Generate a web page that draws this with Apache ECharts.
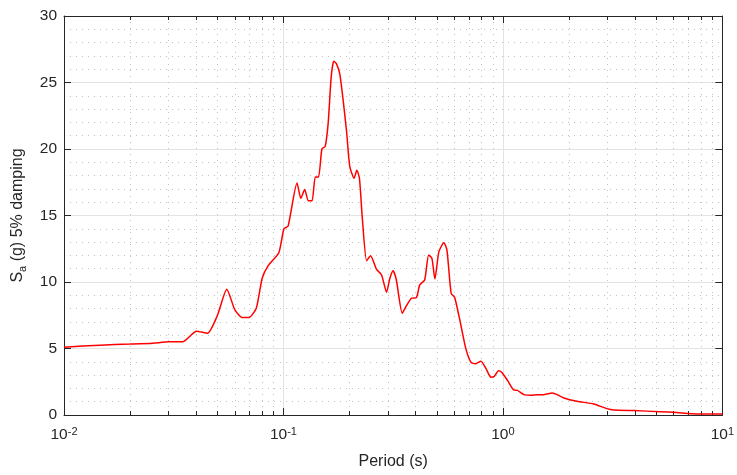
<!DOCTYPE html>
<html>
<head>
<meta charset="utf-8">
<script src="https://cdn.jsdelivr.net/npm/echarts@6/dist/echarts.min.js"></script>
<style>
html,body{margin:0;padding:0;background:#fff;}
#chart{width:737px;height:475px;}
</style>
</head>
<body>
<div id="chart"></div>
<script>
// Period (s)
const periods = [0.01, 0.0146, 0.02, 0.0254, 0.03, 0.0347, 0.0402, 0.0451, 0.050, 0.0552,
  0.0601, 0.065, 0.0697, 0.0752, 0.080, 0.0852, 0.0953, 0.1005, 0.105, 0.1153,
  0.120, 0.125, 0.130, 0.135, 0.1397, 0.1445, 0.1497, 0.155, 0.160, 0.165,
  0.1696, 0.1745, 0.1806, 0.1876, 0.194, 0.2005, 0.210, 0.216, 0.222, 0.2288,
  0.2393, 0.2496, 0.2656, 0.280, 0.295, 0.3055, 0.316, 0.327, 0.348, 0.363,
  0.383, 0.4035, 0.418, 0.440, 0.459, 0.475, 0.490, 0.511, 0.5385, 0.556,
  0.581, 0.6025, 0.634, 0.677, 0.716, 0.748, 0.794, 0.837, 0.882, 0.914,
  0.955, 0.99, 1.05, 1.117, 1.165, 1.249, 1.339, 1.435, 1.539, 1.679,
  1.770, 1.897, 2.178, 2.594, 2.98, 3.2, 3.94, 5.2, 6.19, 7.63, 10];
// Sa (g), 5% damping
const saValues = [5.1, 5.25, 5.33, 5.4, 5.5, 5.5, 6.3, 6.15, 7.48, 9.45,
  7.9, 7.33, 7.33, 8.03, 10.28, 11.23, 12.2, 14.0, 14.2, 17.45,
  16.3, 16.95, 16.1, 16.1, 17.9, 17.9, 20.0, 20.2, 22.0, 25.4,
  26.6, 26.4, 25.65, 23.5, 21.3, 18.7, 17.8, 18.4, 17.8, 14.8,
  11.6, 11.98, 10.95, 10.53, 9.23, 10.28, 10.85, 10.15, 7.65, 8.2,
  8.78, 8.83, 9.78, 10.15, 12.03, 11.78, 10.23, 12.28, 12.95, 12.4,
  9.15, 8.85, 7.28, 5.03, 3.95, 3.85, 4.05, 3.5, 2.84, 2.9,
  3.33, 3.2, 2.6, 1.9, 1.85, 1.53, 1.48, 1.53, 1.53, 1.65,
  1.53, 1.28, 1.03, 0.83, 0.48, 0.38, 0.33, 0.25, 0.18, 0.08, 0.08];
const yTicks = [0, 5, 10, 15, 20, 25, 30];

const axisColor = '#262626';
const font = 'Liberation Sans, Arial, Helvetica, sans-serif';

const chart = echarts.init(document.getElementById('chart'));
const seriesData = periods.map((p, i) => [p, saValues[i]]);

const xCommon = {
  type: 'log', logBase: 10, min: 0.01, max: 10,
  axisLine: {show: true, onZero: false, lineStyle: {color: axisColor, width: 1}},
  axisTick: {show: true, inside: true, length: 7, lineStyle: {color: axisColor}},
  minorTick: {show: true, splitNumber: 9, length: 4, lineStyle: {color: axisColor}}
};
const yCommon = {
  type: 'value', min: yTicks[0], max: yTicks[yTicks.length - 1], interval: 5,
  axisLine: {show: true, onZero: false, lineStyle: {color: axisColor, width: 1}},
  axisTick: {show: true, inside: true, length: 7, lineStyle: {color: axisColor}}
};

chart.setOption({
  animation: false,
  backgroundColor: '#fff',
  grid: {left: 64, right: 11, top: 16, bottom: 58, containLabel: false},
  xAxis: [
    Object.assign({}, xCommon, {
      position: 'bottom',
      name: 'Period (s)', nameLocation: 'middle', nameGap: 39,
      nameTextStyle: {fontFamily: font, fontSize: 16, color: axisColor},
      axisLabel: {
        show: true, margin: 11, color: axisColor, fontFamily: font,
        formatter: v => '{b|10}{s|' + Math.round(Math.log10(v)) + '}',
        rich: {
          b: {fontSize: 15.5, fontFamily: font, color: axisColor, lineHeight: 18},
          s: {fontSize: 11, fontFamily: font, color: axisColor, lineHeight: 8, verticalAlign: 'top'}
        }
      },
      splitLine: {show: true, lineStyle: {color: '#e3e3e3', width: 1}},
      minorSplitLine: {show: true, lineStyle: {color: '#c2c2c2', width: 1, type: [1, 5]}}
    }),
    Object.assign({}, xCommon, {
      position: 'top',
      axisLabel: {show: false},
      splitLine: {show: false},
      minorSplitLine: {show: false}
    })
  ],
  yAxis: [
    Object.assign({}, yCommon, {
      position: 'left',
      name: '{m|S}{sub|a}{m| (g) 5% damping}',
      nameLocation: 'middle', nameGap: 36, nameRotate: 90,
      nameTextStyle: {
        fontFamily: font, fontSize: 16, color: axisColor,
        rich: {
          m: {fontSize: 16, fontFamily: font, color: axisColor, lineHeight: 20},
          sub: {fontSize: 11, fontFamily: font, color: axisColor, lineHeight: 8, verticalAlign: 'bottom'}
        }
      },
      axisLabel: {show: true, margin: 7, fontSize: 15.5, fontFamily: font, color: axisColor},
      splitLine: {show: true, lineStyle: {color: '#e3e3e3', width: 1}},
      minorTick: {show: false, splitNumber: 5},
      minorSplitLine: {show: true, lineStyle: {color: '#c2c2c2', width: 1, type: [1, 5]}}
    }),
    Object.assign({}, yCommon, {
      position: 'right',
      axisLabel: {show: false},
      splitLine: {show: false}
    })
  ],
  series: [{
    type: 'line',
    xAxisIndex: 0, yAxisIndex: 0,
    data: seriesData,
    showSymbol: false,
    smooth: 0.2,
    lineStyle: {color: '#ff0000', width: 1.5},
    itemStyle: {color: '#ff0000'},
    z: 5
  }]
});
</script>
</body>
</html>
